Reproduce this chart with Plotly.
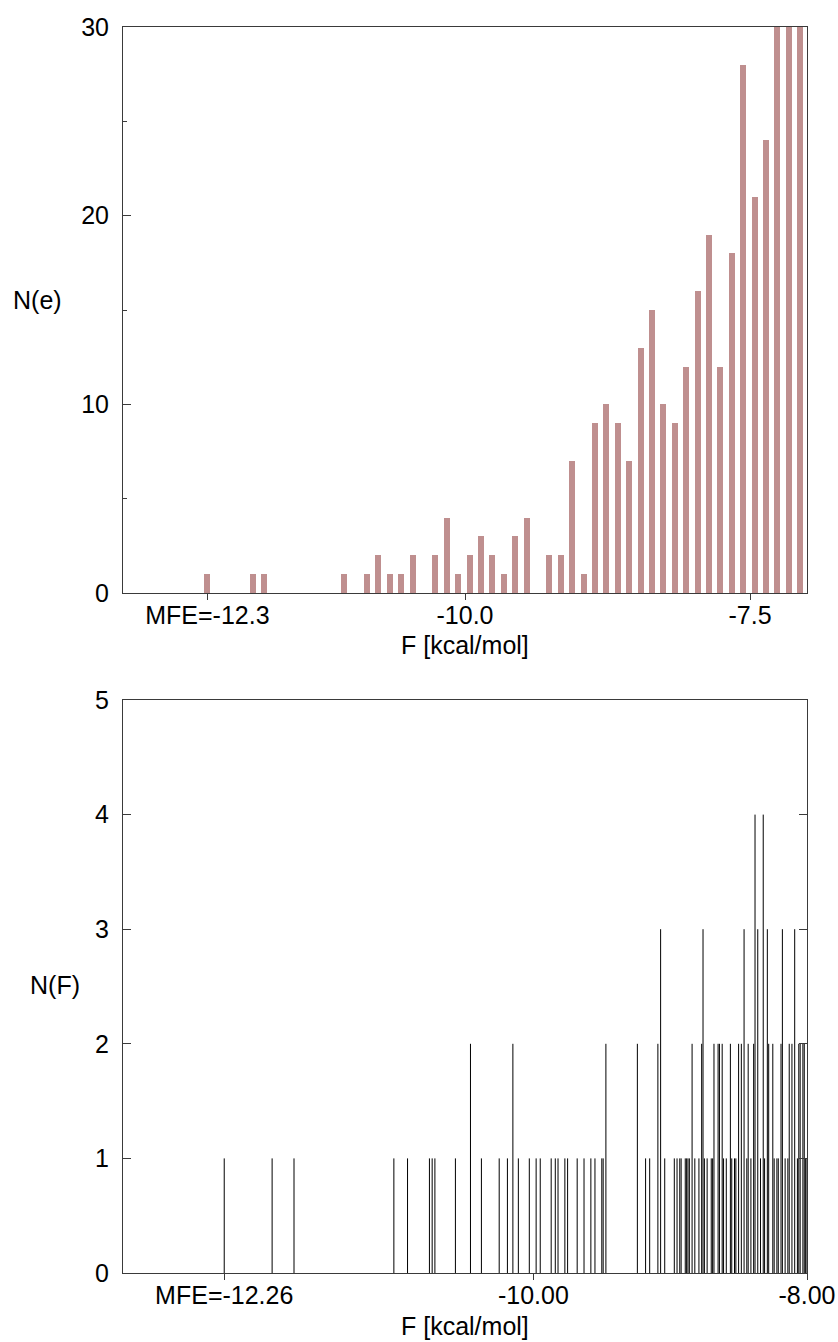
import plotly.graph_objects as go

# ---------------- data ----------------
# top panel: histogram of energies (0.1 kcal/mol bins)
hist_bins = [-12.26, -11.86, -11.76, -11.06, -10.86, -10.76, -10.66, -10.56, -10.46,
             -10.26, -10.16, -10.06, -9.96, -9.86, -9.76, -9.66, -9.56, -9.46,
             -9.26, -9.16, -9.06, -8.96, -8.86, -8.76, -8.66, -8.56, -8.46, -8.36,
             -8.26, -8.16, -8.06, -7.96, -7.86, -7.76, -7.66, -7.56, -7.46, -7.36,
             -7.26, -7.16, -7.06]
hist_counts = [1, 1, 1, 1, 1, 2, 1, 1, 2,
               2, 4, 1, 2, 3, 2, 1, 3, 4,
               2, 2, 7, 1, 9, 10, 9, 7, 13, 15,
               10, 9, 12, 16, 19, 12, 18, 28, 21, 24,
               32, 35, 38]

# bottom panel: number of structures per free energy value
free_energies = [-12.26, -11.91, -11.75, -11.02, -10.92, -10.76, -10.74, -10.72, -10.57,
                 -10.46, -10.38, -10.25, -10.19, -10.15, -10.11, -10.03, -9.98, -9.95,
                 -9.87, -9.84, -9.82, -9.77, -9.75, -9.68, -9.63, -9.58, -9.55, -9.50,
                 -9.49, -9.47,
                 -9.24, -9.18, -9.15, -9.09, -9.07, -9.04, -8.97, -8.95, -8.93, -8.92,
                 -8.89, -8.88, -8.87, -8.86, -8.84, -8.82, -8.79, -8.77, -8.76, -8.75,
                 -8.73, -8.70, -8.69, -8.68, -8.65, -8.64, -8.62, -8.61, -8.59, -8.56,
                 -8.55, -8.53, -8.52, -8.50, -8.48, -8.46, -8.44, -8.43, -8.41, -8.39,
                 -8.38, -8.36, -8.34, -8.32, -8.31, -8.29, -8.28, -8.25, -8.24, -8.22,
                 -8.21, -8.19, -8.18, -8.16, -8.14, -8.13, -8.11, -8.09, -8.07, -8.06,
                 -8.05, -8.03, -8.02, -8.01, -8.00]
structure_counts = [1, 1, 1, 1, 1, 1, 1, 1, 1,
                    2, 1, 1, 1, 2, 1, 1, 1, 1,
                    1, 1, 1, 1, 1, 1, 1, 1, 1, 1,
                    1, 2,
                    2, 1, 1, 2, 3, 1, 1, 1, 1, 1,
                    1, 1, 1, 1, 2, 1, 1, 2, 3, 1,
                    1, 1, 1, 2, 2, 2, 2, 1, 1, 2,
                    1, 1, 1, 2, 2, 3, 1, 2, 1, 2,
                    4, 3, 1, 4, 1, 3, 2, 2, 1, 1,
                    1, 2, 3, 1, 1, 2, 2, 3, 1, 2,
                    2, 2, 2, 1, 1]

top_ticks = [-12.26, -10.0, -7.5]
top_ticktext = ["MFE=-12.3", "-10.0", "-7.5"]
bot_ticks = [-12.26, -10.0, -8.0]
bot_ticktext = ["MFE=-12.26", "-10.00", "-8.00"]

# ---------------- figure ----------------
W, H = 838, 1342
ML, MR, MT, MB = 123, 31, 27, 69
PH = H - MT - MB


def py(pix):
    return (H - MB - pix) / PH


def px(pix):
    return (pix - ML) / (W - ML - MR)


FONT = "Liberation Sans, Arial, Helvetica, sans-serif"
AXC = "#3a3a3a"

fig = go.Figure()
fig.add_trace(go.Bar(x=hist_bins, y=hist_counts, width=0.053,
                     marker=dict(color="#bf8f8f", line=dict(width=0)),
                     xaxis="x", yaxis="y", showlegend=False))

xs, ys = [], []
for f, c in zip(free_energies, structure_counts):
    xs += [f, f, None]
    ys += [0, c, None]
fig.add_trace(go.Scatter(x=xs, y=ys, mode="lines",
                         line=dict(color="black", width=1),
                         xaxis="x2", yaxis="y2", showlegend=False))

common_x = dict(showgrid=False, zeroline=False, showline=True, mirror=True,
                linecolor=AXC, linewidth=1, ticks="outside", ticklen=6,
                tickcolor=AXC, tickfont=dict(family=FONT, size=25, color="black"),
                automargin=False, ticklabelstandoff=-6)
common_y = dict(showgrid=False, zeroline=False, showline=True, mirror=True,
                linecolor=AXC, linewidth=1, ticks="inside", ticklen=8,
                tickcolor=AXC, tickfont=dict(family=FONT, size=25, color="black"),
                ticklabelstandoff=8, automargin=False)

fig.update_layout(
    width=W, height=H,
    margin=dict(l=ML, r=MR, t=MT, b=MB, autoexpand=False),
    paper_bgcolor="white", plot_bgcolor="white",
    bargap=0,
    xaxis=dict(domain=[0, 1], anchor="y", range=[-13.0, -7.0],
               tickvals=top_ticks, ticktext=top_ticktext, **common_x),
    yaxis=dict(domain=[py(593), 1], anchor="x", range=[0, 30],
               tickvals=[0, 10, 20, 30],
               minor=dict(tickvals=[5, 15, 25], ticks="inside", ticklen=4, tickcolor=AXC),
               **common_y),
    xaxis2=dict(domain=[0, 1], anchor="y2", range=[-13.0, -8.0],
                tickvals=bot_ticks, ticktext=bot_ticktext, **common_x),
    yaxis2=dict(domain=[0, py(700)], anchor="x2", range=[0, 5],
                tickvals=[0, 1, 2, 3, 4, 5], **common_y),
)
fig.update_yaxes(mirror="ticks", selector=dict(anchor="x2"))

ann = dict(xref="paper", yref="paper", showarrow=False,
           font=dict(family=FONT, size=25, color="black"))
fig.add_annotation(text="N(e)", x=px(37), y=py(300), xanchor="center", yanchor="middle", **ann)
fig.add_annotation(text="N(F)", x=px(55), y=py(985), xanchor="center", yanchor="middle", **ann)
fig.add_annotation(text="F [kcal/mol]", x=px(465), y=py(645), xanchor="center", yanchor="middle", **ann)
fig.add_annotation(text="F [kcal/mol]", x=px(465), y=py(1326), xanchor="center", yanchor="middle", **ann)

fig.write_html("out.html")
